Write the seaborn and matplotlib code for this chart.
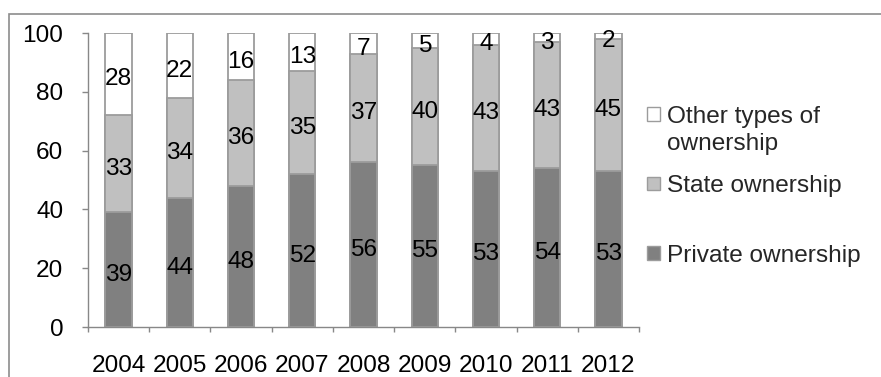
import matplotlib
matplotlib.use("Agg")
import matplotlib.pyplot as plt
import seaborn as sns
import pandas as pd
from matplotlib.patches import Patch, Rectangle
from matplotlib.ticker import FixedLocator

# ---- data ----
years = ["2004", "2005", "2006", "2007", "2008", "2009", "2010", "2011", "2012"]
private = [39, 44, 48, 52, 56, 55, 53, 54, 53]
state = [33, 34, 36, 35, 37, 40, 43, 43, 45]
other = [28, 22, 16, 13, 7, 5, 4, 3, 2]
series_names = ["Private ownership", "State ownership", "Other types of\nownership"]
colors = ["#808080", "#c0c0c0", "#ffffff"]
y_ticks = [0, 20, 40, 60, 80, 100]

sns.set_theme(style="white")
plt.rcParams["font.family"] = ["Liberation Sans", "DejaVu Sans"]
FS = 17.6

W, H = 881, 377
fig = plt.figure(figsize=(W / 100, H / 100), dpi=100)
ax = fig.add_axes([88 / W, 1 - 327 / H, (639 - 88) / W, (327 - 33) / H])

df = pd.DataFrame({"year": years, "private": private, "state": state, "other": other})
df["ps"] = df["private"] + df["state"]
df["total"] = df["ps"] + df["other"]

edge = "#9c9c9c"
bw = 0.43
for col, c in [("total", colors[2]), ("ps", colors[1]), ("private", colors[0])]:
    sns.barplot(data=df, x="year", y=col, color=c, saturation=1, width=bw,
                edgecolor=edge, linewidth=1.3, ax=ax, errorbar=None)

# segment labels
for i in range(len(years)):
    bottoms = [0, private[i], private[i] + state[i]]
    vals = [private[i], state[i], other[i]]
    for b, v in zip(bottoms, vals):
        ax.annotate(str(v), (i, b + v / 2), xytext=(0, -2), textcoords="offset points",
                    ha="center", va="center_baseline", fontsize=FS, color="black")

ax.set_ylim(0, 100)
ax.set_xlim(-0.5, len(years) - 0.5)
ax.set_yticks(y_ticks)
ax.set_xlabel("")
ax.set_ylabel("")
ax.xaxis.set_minor_locator(FixedLocator([i - 0.5 for i in range(len(years) + 1)]))
axis_col = "#888888"
for s in ["top", "right"]:
    ax.spines[s].set_visible(False)
for s in ["left", "bottom"]:
    ax.spines[s].set_color(axis_col)
    ax.spines[s].set_linewidth(1.0)
ax.tick_params(axis="y", which="major", direction="out", length=4.3, width=1.0,
               color=axis_col, pad=13.5, labelsize=FS, labelcolor="black", left=True)
ax.tick_params(axis="x", which="major", length=0, pad=20.5, labelsize=FS, labelcolor="black")
ax.tick_params(axis="x", which="minor", direction="out", length=3.8, width=1.0,
               color=axis_col, bottom=True)
ax.grid(False)

# legend (reverse order like the reference)
handles = [Patch(facecolor=colors[k], edgecolor=edge, linewidth=1.0) for k in (2, 1, 0)]
labels = [series_names[k] for k in (2, 1, 0)]
leg = fig.legend(handles, labels, loc="upper left",
                 bbox_to_anchor=(647 / W, 1 - 87.5 / H), frameon=False,
                 fontsize=FS, handlelength=0.55, handleheight=3.15,
                 handletextpad=0.28, labelspacing=0.55, borderpad=0, borderaxespad=0)
sq = 0.55 * FS
for h in leg.legend_handles:
    h.set_height(sq)
    h.set_width(sq)
    h.set_y(1.4)
# the wrapped label hangs down from its marker line, as in the reference
leg.texts[0].set_linespacing(1.34)
leg.texts[0].set_y(-16.5)

# outer chart-area frame (clipped at right and bottom, as in the reference)
fig.add_artist(Rectangle((9 / W, -0.5), 2, 1 - 14 / H + 0.5, transform=fig.transFigure,
                         fill=False, edgecolor="#8c8c8c", linewidth=1.2))

fig.savefig("out.png", dpi=100)
